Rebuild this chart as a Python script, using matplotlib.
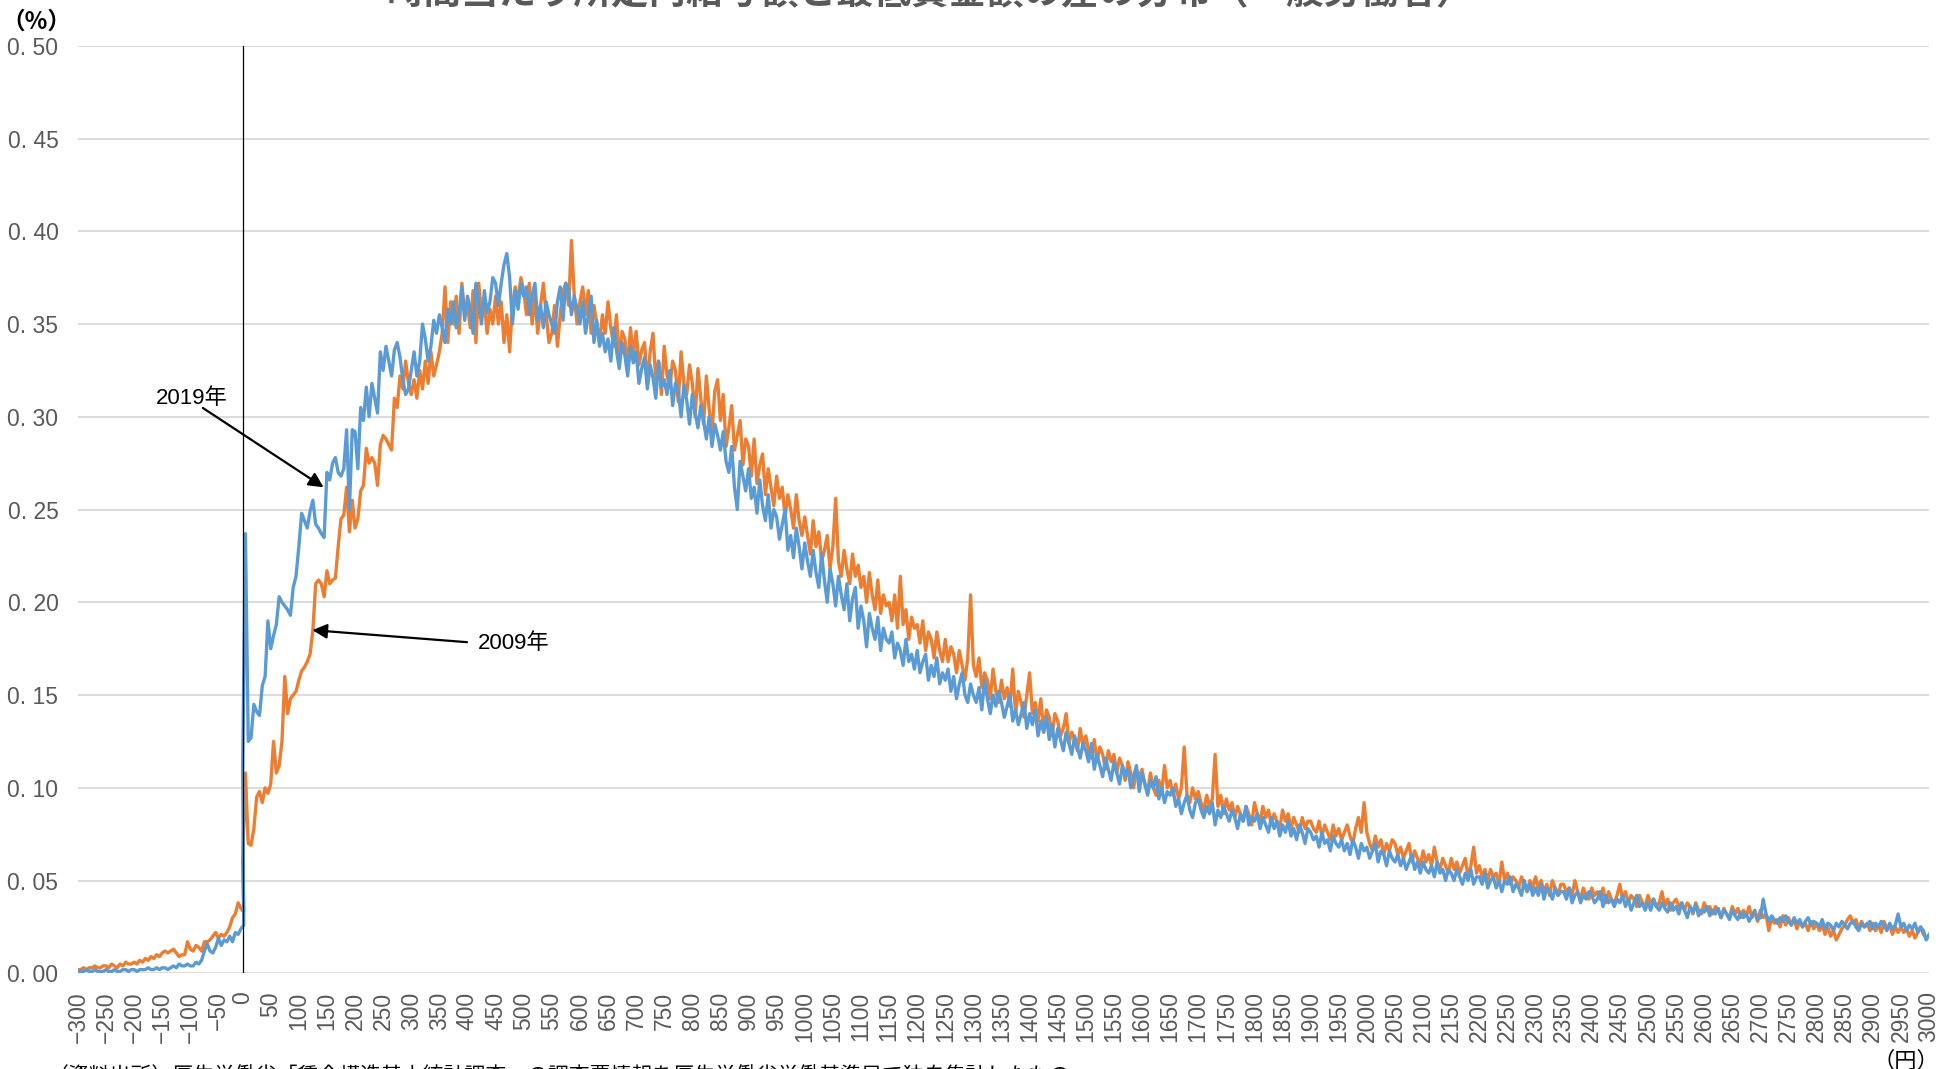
import matplotlib
matplotlib.use("Agg")
import matplotlib.pyplot as plt
import numpy as np

# x: difference (yen), 5-yen bins from -300 to 3000
x_yen = np.arange(-300, 3001, 5)

# share of workers (unit: 0.001 %)
share_2009 = [
    2, 2, 3, 2, 3, 3, 4, 3, 3, 4,
    4, 3, 5, 4, 3, 5, 4, 6, 5, 5,
    6, 5, 7, 6, 8, 7, 9, 8, 10, 9,
    11, 12, 11, 12, 13, 11, 9, 10, 10, 17,
    13, 12, 15, 14, 12, 17, 17, 18, 20, 22,
    19, 21, 20, 22, 25, 30, 32, 38, 35, 33,
    60, 108, 70, 69, 78, 95, 98, 92, 100, 97,
    102, 125, 108, 112, 125, 160, 140, 148, 150, 152,
    158, 163, 165, 168, 172, 185, 210, 212, 210, 203,
    217, 210, 212, 213, 230, 245, 247, 262, 238, 255,
    240, 245, 260, 263, 283, 275, 278, 275, 263, 285,
    290, 288, 285, 282, 310, 305, 322, 315, 330, 318,
    312, 320, 310, 325, 315, 330, 318, 335, 322, 328,
    335, 345, 370, 340, 362, 350, 365, 345, 372, 355,
    360, 348, 368, 340, 372, 355, 362, 345, 358, 350,
    365, 350, 362, 340, 355, 335, 360, 370, 362, 375,
    368, 355, 372, 350, 365, 345, 360, 372, 355, 340,
    345, 360, 338, 355, 368, 372, 360, 395, 365, 350,
    362, 370, 355, 368, 345, 360, 350, 340, 355, 345,
    362, 348, 338, 355, 330, 346, 342, 326, 348, 333,
    346, 328, 336, 340, 318, 335, 345, 320, 330, 312,
    338, 322, 316, 330, 325, 308, 335, 318, 312, 328,
    318, 300, 326, 310, 296, 322, 304, 292, 314, 320,
    298, 312, 284, 294, 306, 282, 290, 298, 274, 288,
    284, 268, 288, 264, 274, 280, 258, 272, 262, 252,
    268, 256, 262, 246, 258, 250, 240, 258, 244, 236,
    246, 236, 226, 244, 230, 238, 222, 228, 236, 218,
    230, 256, 222, 214, 228, 218, 210, 226, 214, 220,
    208, 214, 200, 216, 204, 196, 212, 194, 204, 198,
    200, 190, 204, 186, 214, 188, 196, 180, 192, 186,
    188, 178, 190, 174, 184, 180, 170, 184, 174, 168,
    180, 168, 176, 172, 162, 174, 166, 158, 170, 204,
    166, 160, 170, 154, 162, 158, 148, 164, 152, 146,
    158, 148, 154, 144, 164, 140, 152, 146, 138, 150,
    162, 140, 146, 136, 148, 130, 142, 138, 128, 140,
    136, 128, 132, 140, 124, 130, 126, 120, 132, 122,
    128, 120, 116, 126, 114, 122, 118, 110, 120, 114,
    118, 108, 116, 112, 104, 114, 108, 100, 110, 106,
    110, 102, 98, 108, 100, 96, 104, 98, 112, 100,
    104, 96, 102, 94, 100, 122, 96, 92, 100, 94,
    98, 92, 88, 96, 90, 94, 118, 90, 96, 86,
    94, 88, 92, 84, 90, 86, 82, 90, 86, 80,
    92, 86, 82, 90, 84, 88, 80, 86, 82, 78,
    88, 82, 86, 78, 84, 80, 76, 84, 78, 82,
    82, 78, 76, 82, 74, 80, 76, 72, 80, 74,
    78, 72, 76, 80, 74, 70, 78, 84, 76, 92,
    76, 70, 66, 74, 68, 72, 64, 70, 66, 72,
    70, 64, 68, 62, 66, 70, 60, 66, 62, 58,
    66, 60, 64, 58, 68, 60, 56, 62, 58, 54,
    62, 56, 60, 54, 58, 62, 52, 58, 68, 54,
    58, 52, 56, 50, 56, 52, 54, 48, 60, 50,
    54, 48, 52, 50, 46, 52, 48, 44, 50, 46,
    52, 46, 50, 44, 48, 42, 50, 46, 42, 48,
    48, 44, 46, 42, 50, 44, 40, 46, 42, 40,
    46, 42, 44, 40, 46, 38, 44, 40, 38, 42,
    48, 40, 44, 38, 42, 40, 36, 42, 38, 36,
    42, 38, 40, 36, 38, 44, 36, 40, 34, 38,
    40, 36, 38, 34, 38, 36, 32, 38, 34, 32,
    38, 34, 36, 32, 36, 34, 30, 35, 32, 30,
    36, 32, 35, 30, 34, 31, 36, 30, 33, 28,
    34, 30, 32, 23, 30, 27, 29, 25, 31, 26,
    30, 26, 29, 24, 28, 25, 27, 23, 28, 24,
    27, 23, 26, 21, 25, 20, 23, 18, 21, 24,
    26, 29, 31, 27, 29, 24, 28, 25, 27, 23,
    27, 23, 26, 22, 28, 24, 26, 21, 25, 22,
    25, 22, 24, 20, 23, 19, 22, 25, 21, 19,
    20,
]

share_2019 = [
    1, 1, 1, 2, 1, 1, 2, 1, 1, 1,
    2, 1, 1, 2, 1, 1, 2, 2, 1, 2,
    2, 1, 2, 2, 2, 3, 2, 2, 3, 2,
    3, 3, 2, 3, 4, 3, 5, 4, 4, 5,
    4, 4, 6, 5, 7, 12, 16, 12, 11, 14,
    19, 15, 18, 17, 20, 17, 22, 21, 24, 26,
    110, 237, 125, 127, 145, 141, 139, 155, 160, 190,
    175, 182, 188, 203, 200, 198, 196, 193, 208, 214,
    230, 248, 244, 240, 249, 255, 242, 240, 237, 235,
    270, 266, 275, 278, 270, 268, 272, 293, 250, 293,
    292, 272, 305, 298, 316, 300, 318, 310, 302, 335,
    325, 338, 330, 322, 336, 340, 332, 320, 312, 315,
    325, 335, 322, 330, 350, 342, 330, 338, 352, 345,
    355, 348, 340, 358, 350, 362, 348, 355, 370, 352,
    365, 358, 345, 372, 360, 350, 368, 356, 362, 375,
    372, 360, 372, 382, 388, 375, 350, 368, 358, 372,
    365, 370, 355, 365, 372, 352, 360, 348, 362, 355,
    350, 345, 362, 370, 352, 372, 368, 355, 365, 358,
    350, 362, 345, 355, 365, 340, 352, 338, 345, 335,
    342, 330, 348, 336, 326, 340, 333, 322, 338, 329,
    335, 318, 326, 332, 315, 328, 321, 310, 330, 316,
    320, 312, 325, 306, 318, 314, 300, 317, 309, 296,
    312, 302, 294, 306, 298, 288, 300, 284, 296, 290,
    282, 292, 276, 270, 284, 262, 250, 276, 268, 260,
    272, 256, 262, 248, 266, 252, 244, 258, 240, 250,
    246, 234, 242, 250, 228, 236, 224, 240, 230, 218,
    232, 222, 214, 228, 216, 208, 226, 212, 200, 218,
    210, 198, 214, 204, 196, 210, 190, 202, 208, 186,
    198, 190, 176, 194, 186, 180, 192, 174, 186, 180,
    178, 184, 170, 178, 174, 166, 180, 168, 172, 164,
    174, 162, 168, 172, 158, 166, 160, 170, 156, 162,
    158, 164, 152, 160, 148, 156, 162, 150, 146, 156,
    150, 146, 154, 142, 158, 148, 140, 150, 144, 152,
    146, 138, 144, 150, 136, 142, 134, 140, 146, 132,
    140, 134, 142, 128, 136, 130, 138, 126, 134, 122,
    132, 126, 120, 130, 124, 118, 128, 122, 116, 124,
    120, 114, 124, 110, 118, 112, 106, 116, 110, 104,
    114, 108, 102, 112, 106, 110, 100, 106, 112, 98,
    108, 102, 96, 104, 100, 106, 94, 100, 92, 98,
    96, 100, 90, 94, 86, 92, 96, 88, 84, 92,
    94, 88, 84, 90, 86, 92, 80, 88, 84, 90,
    86, 82, 88, 84, 78, 86, 82, 90, 80, 84,
    82, 86, 78, 84, 80, 76, 84, 78, 82, 74,
    80, 76, 82, 74, 78, 72, 80, 76, 70, 78,
    76, 72, 74, 68, 76, 70, 72, 66, 74, 70,
    68, 72, 66, 70, 64, 72, 68, 62, 70, 66,
    68, 62, 66, 70, 60, 66, 64, 58, 66, 62,
    60, 64, 58, 62, 56, 60, 64, 56, 60, 54,
    60, 56, 54, 58, 52, 60, 54, 56, 50, 56,
    54, 50, 56, 52, 48, 54, 50, 56, 48, 52,
    52, 48, 54, 46, 50, 52, 46, 50, 44, 50,
    48, 52, 44, 48, 46, 42, 50, 44, 48, 42,
    46, 42, 48, 40, 46, 44, 40, 46, 42, 44,
    44, 40, 46, 38, 42, 44, 38, 42, 40, 44,
    42, 38, 40, 44, 36, 42, 38, 40, 36, 40,
    38, 42, 36, 40, 34, 38, 42, 36, 38, 34,
    38, 34, 40, 36, 34, 38, 35, 33, 38, 34,
    36, 32, 38, 34, 30, 36, 33, 37, 31, 34,
    33, 36, 31, 34, 32, 35, 30, 34, 32, 29,
    34, 31, 29, 33, 30, 32, 28, 31, 34, 29,
    30, 40, 32, 28, 31, 29, 27, 30, 28, 31,
    28, 26, 30, 27, 29, 25, 28, 30, 26, 28,
    27, 25, 29, 24, 27, 26, 23, 27, 25, 28,
    26, 24, 27, 28, 25, 23, 27, 25, 26, 28,
    24, 27, 25, 28, 26, 23, 27, 24, 26, 32,
    25, 27, 23, 26, 24, 27, 22, 25, 23, 18,
    21,
]

tick_yen = np.arange(-300, 3001, 50)
y_ticks = np.arange(0, 0.501, 0.05)

TITLE = "時間当たり所定内給与額と最低賃金額の差の分布（一般労働者）"
NOTE = "（資料出所）厚生労働省「賃金構造基本統計調査」の調査票情報を厚生労働省労働基準局で独自集計したもの。"

C_2009 = "#ED7D31"
C_2019 = "#5B9BD5"
GRAY = "#595959"
TICK_FONT = ["Liberation Sans", "DejaVu Sans"]
JP_FONT = ["Liberation Sans", "Noto Sans CJK JP", "DejaVu Sans"]

assert len(share_2009) == len(x_yen) and len(share_2019) == len(x_yen)


def xpos(v):
    # excel category axis: the negative side sits a little closer to 0
    v = np.asarray(v)
    return np.where(v < 0, v + 7, v)


fig = plt.figure(figsize=(19.43, 10.69), dpi=100)
ax = fig.add_axes([0.0401, 0.0895, 0.9527, 0.8677])

ax.plot(xpos(x_yen), np.array(share_2009) / 1000, color=C_2009, lw=2.4, zorder=3)
ax.plot(xpos(x_yen), np.array(share_2019) / 1000, color=C_2019, lw=2.4, zorder=4)
ax.axvline(0, color="black", lw=0.9, zorder=5)

ax.set_xlim(xpos(-300), 3000)
ax.set_ylim(0, 0.5)

ax.set_yticks(y_ticks)
ax.set_yticklabels([f"{t:.2f}".replace(".", ". ") for t in y_ticks],
                   family=TICK_FONT, fontsize=16.5, color=GRAY)
ax.set_xticks(xpos(tick_yen))
ax.set_xticklabels([str(v).replace("-", "\u2212") for v in tick_yen],
                   family=TICK_FONT, fontsize=16.5, color=GRAY, rotation=90)
ax.tick_params(axis="both", length=0)
ax.tick_params(axis="x", pad=13)
ax.tick_params(axis="y", pad=14)

ax.grid(axis="y", color="#d9d9d9", lw=1.3)
ax.set_axisbelow(True)
for s in ax.spines.values():
    s.set_visible(False)

# annotations
ax.text(0.0616, 0.620, "2019年", transform=ax.transAxes, ha="center", va="center",
        family=JP_FONT, fontsize=16)
ax.annotate("", xy=(144, 0.262), xycoords="data",
            xytext=(0.0675, 0.6095), textcoords="axes fraction",
            arrowprops=dict(arrowstyle="-|>", color="black", lw=1.6,
                            mutation_scale=22, shrinkA=0, shrinkB=0))
ax.text(0.2355, 0.356, "2009年", transform=ax.transAxes, ha="center", va="center",
        family=JP_FONT, fontsize=16)
ax.annotate("", xy=(124, 0.185), xycoords="data",
            xytext=(0.2102, 0.357), textcoords="axes fraction",
            arrowprops=dict(arrowstyle="-|>", color="black", lw=1.6,
                            mutation_scale=22, shrinkA=0, shrinkB=0))

# units, title, note (title and note are clipped by the frame in the source)
fig.text(0.0185, 1 - 22 / 1069, "（%）", ha="center", va="center",
         family=["Noto Sans CJK JP"], fontsize=17, fontweight="bold")
fig.text(0.981, 1 - 1061 / 1069, "（円）", ha="center", va="center",
         family=["Noto Sans CJK JP"], fontsize=16)
fig.text(0.479, 1 - 4 / 1069, TITLE, ha="center", va="baseline",
         family=["Noto Sans CJK JP"], fontsize=27, fontweight="bold", color=GRAY)
fig.text(0.0242, 1 - 1066 / 1069, NOTE, ha="left", va="top",
         family=["Noto Sans CJK JP"], fontsize=15)

fig.savefig("out.png", dpi=100)
